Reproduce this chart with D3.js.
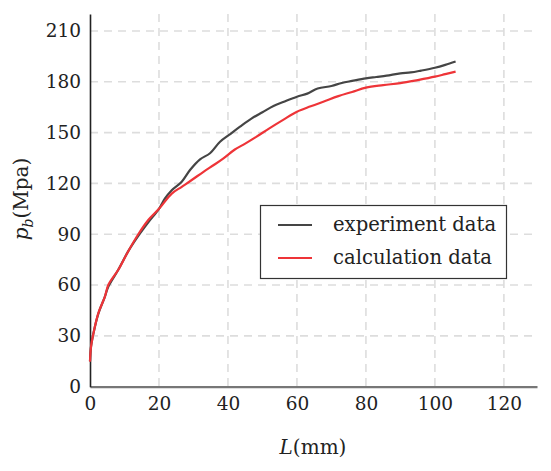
<!DOCTYPE html>
<html>
<head>
<meta charset="utf-8">
<script src="https://cdn.jsdelivr.net/npm/d3@7"></script>
<style>
  body { margin: 0; background: #fff; }
  text { font-family: "DejaVu Serif", serif; fill: #222; }
</style>
</head>
<body>
<svg id="canvas" width="551" height="471"></svg>
<script>
// experiment data
let expL = [0, 0.3, 1, 2.4, 4.3, 5.3, 8.2, 11.1, 14, 16.9, 20, 21.7, 23.7, 26.6, 29, 31.9, 34.8, 37.7, 40.3, 43.5, 46.9, 50, 53.2, 56, 60, 63, 66, 70, 73, 76, 80, 83, 86, 90, 93, 96, 100, 103, 106]
let expP = [15, 23.6, 31.5, 43, 53, 59, 69, 80, 89, 97, 105, 111, 116, 121, 127.9, 134.2, 137.8, 144.6, 148.6, 153.5, 158.4, 162, 165.7, 168, 171.2, 173, 176, 177.5, 179.3, 180.5, 182, 182.8, 183.6, 185, 185.5, 186.6, 188.3, 190, 192]

// calculation data
let calcL = [0, 0.3, 1, 2.4, 4.3, 5.3, 8.2, 11.1, 14, 16.9, 20, 23.7, 26.6, 29.5, 33, 36, 38.7, 42, 45, 48.3, 52, 56, 60, 64, 68, 72, 76, 80, 85, 90, 95, 100, 103, 106]
let calcP = [14.8, 23.6, 31.5, 43.3, 53, 60, 69, 80, 90, 98.4, 105, 114, 118, 122, 127, 131, 134.8, 140, 143.5, 147.6, 152.5, 157.5, 162.3, 165.5, 168.5, 171.5, 174, 176.5, 178, 179.2, 181, 183, 184.5, 186]

let xTicks = [0, 20, 40, 60, 80, 100, 120]
let yTicks = [0, 30, 60, 90, 120, 150, 180, 210]
let seriesNames = ['experiment data', 'calculation data']
let seriesColors = ['#454545', '#ee3438']

let svg = d3.select('#canvas')

let plotLeft = 90, plotRight = 537, plotTop = 14, plotBottom = 386.7

let x = d3.scaleLinear().domain([0, 129.6]).range([plotLeft, plotRight])
let y = d3.scaleLinear().domain([0, 220]).range([plotBottom, plotTop])

// dashed grid
svg.append('g')
    .selectAll('line')
    .data(xTicks.slice(1))
    .enter()
    .append('line')
    .attr('x1', d => x(d)).attr('x2', d => x(d))
    .attr('y1', plotTop).attr('y2', plotBottom)
    .attr('stroke', '#dddddd')
    .attr('stroke-width', 1.6)
    .attr('stroke-dasharray', '8,6')

svg.append('g')
    .selectAll('line')
    .data(yTicks.slice(1))
    .enter()
    .append('line')
    .attr('x1', plotLeft).attr('x2', plotRight)
    .attr('y1', d => y(d)).attr('y2', d => y(d))
    .attr('stroke', '#dddddd')
    .attr('stroke-width', 1.6)
    .attr('stroke-dasharray', '8,6')

// axes, no tick marks
let xAxis = svg.append('g')
    .attr('transform', `translate(0,${plotBottom})`)
    .call(d3.axisBottom(x).tickValues(xTicks).tickSize(0).tickPadding(10))
xAxis.select('.domain').attr('stroke', '#777').attr('stroke-width', 2.2)
xAxis.selectAll('text').attr('font-size', 18.5).attr('font-family', 'DejaVu Serif').attr('fill', '#222')

let yAxis = svg.append('g')
    .attr('transform', `translate(${plotLeft},0)`)
    .call(d3.axisLeft(y).tickValues(yTicks).tickSize(0).tickPadding(9))
yAxis.select('.domain').attr('stroke', '#222').attr('stroke-width', 1.6)
yAxis.selectAll('text').attr('font-size', 18.5).attr('font-family', 'DejaVu Serif').attr('fill', '#222')

// curves
let line = d3.line()
    .x(d => x(d[0]))
    .y(d => y(d[1]))
    .curve(d3.curveCatmullRom)

let series = [
    d3.zip(expL, expP),
    d3.zip(calcL, calcP)
]

svg.append('g')
    .selectAll('path')
    .data(series)
    .enter()
    .append('path')
    .attr('d', line)
    .attr('fill', 'none')
    .attr('stroke', (d, i) => seriesColors[i])
    .attr('stroke-width', 2.2)

// legend
let legend = svg.append('g')
legend.append('rect')
    .attr('x', 260.5).attr('y', 205.5)
    .attr('width', 246).attr('height', 73)
    .attr('fill', '#fff')
    .attr('stroke', '#333')
    .attr('stroke-width', 1.2)

let rows = legend.selectAll('g.row')
    .data(seriesNames)
    .enter()
    .append('g')
    .attr('class', 'row')
    .attr('transform', (d, i) => `translate(0,${225 + i * 33})`)
rows.append('line')
    .attr('x1', 278).attr('x2', 312)
    .attr('stroke', (d, i) => seriesColors[i])
    .attr('stroke-width', 2.2)
rows.append('text')
    .attr('x', 333).attr('y', 6)
    .attr('font-size', 19.6)
    .text(d => d)

// axis titles
let xt = svg.append('text')
    .attr('x', 313).attr('y', 454)
    .attr('text-anchor', 'middle')
    .attr('font-size', 20)
xt.append('tspan').attr('font-style', 'italic').text('L')
xt.append('tspan').text('(mm)')

let yt = svg.append('text')
    .attr('transform', 'translate(28,199) rotate(-90)')
    .attr('text-anchor', 'middle')
    .attr('font-size', 20)
yt.append('tspan').attr('font-style', 'italic').text('p')
yt.append('tspan').attr('font-style', 'italic').attr('font-size', 14).attr('dy', 5).text('b')
yt.append('tspan').attr('dy', -5).text('(Mpa)')
</script>
</body>
</html>
